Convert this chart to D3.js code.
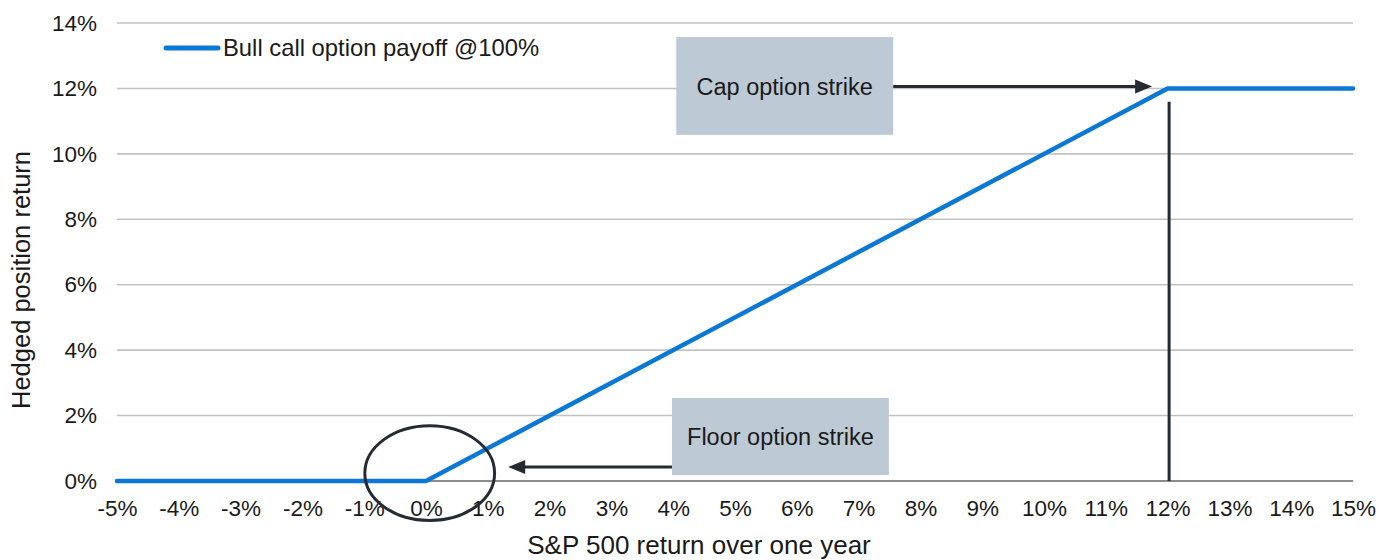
<!DOCTYPE html>
<html>
<head>
<meta charset="utf-8">
<script src="https://cdn.jsdelivr.net/npm/d3@7"></script>
<style>
  body { margin: 0; background: #fff; }
  text { font-family: "Liberation Sans", Arial, sans-serif; fill: #1a1a1a; }
</style>
</head>
<body>
<div id="chart"></div>
<script>
// data
const xTicks = [-5, -4, -3, -2, -1, 0, 1, 2, 3, 4, 5, 6, 7, 8, 9, 10, 11, 12, 13, 14, 15];
const yTicks = [0, 2, 4, 6, 8, 10, 12, 14];
const spReturn = [-5, 0, 12, 15];
const payoff = [0, 0, 12, 12];
const seriesName = "Bull call option payoff @100%";
const capLabel = "Cap option strike";
const floorLabel = "Floor option strike";
const floorStrike = 0;
const capStrike = 12;

function createChart() {
    const w = 1379;
    const h = 560;
    const left = 117, right = 1353, top = 23, bottom = 481;

    const xScale = d3.scaleLinear().domain([-5, 15]).range([left, right]);
    const yScale = d3.scaleLinear().domain([0, 14]).range([bottom, top]);

    const svg = d3.select("#chart").append("svg")
        .attr("width", w)
        .attr("height", h);

    /* GRID */
    svg.append("g")
        .selectAll("line")
        .data(yTicks.filter(d => d > 0))
        .enter()
        .append("line")
        .attr("x1", left).attr("x2", right)
        .attr("y1", d => yScale(d)).attr("y2", d => yScale(d))
        .style("stroke", "#c3c3c3")
        .style("stroke-width", 1.6);

    // zero axis line
    svg.append("line")
        .attr("x1", left).attr("x2", right)
        .attr("y1", yScale(0)).attr("y2", yScale(0))
        .style("stroke", "#8c8c8c")
        .style("stroke-width", 1.8);

    /* AXES */
    const yAxis = d3.axisLeft(yScale)
        .tickValues(yTicks)
        .tickSize(0)
        .tickPadding(20)
        .tickFormat(d => d + "%");
    const gy = svg.append("g")
        .attr("transform", "translate(" + left + ",0)")
        .call(yAxis);
    gy.select(".domain").remove();
    gy.selectAll("text").style("font-size", "22.5px").attr("fill", "#1a1a1a");

    const xAxis = d3.axisBottom(xScale)
        .tickValues(xTicks)
        .tickSize(0)
        .tickPadding(19)
        .tickFormat(d => d + "%");
    const gx = svg.append("g")
        .attr("transform", "translate(0," + bottom + ")")
        .call(xAxis);
    gx.select(".domain").remove();
    gx.selectAll("text").style("font-size", "22.5px").attr("fill", "#1a1a1a");

    /* ANNOTATIONS */
    const dark = "#262b33";
    const boxFill = "#bdc9d5";

    // cap box + arrow
    svg.append("rect")
        .attr("x", xScale(4.05)).attr("y", yScale(13.57))
        .attr("width", xScale(7.56) - xScale(4.05))
        .attr("height", yScale(10.58) - yScale(13.57))
        .style("fill", boxFill);
    svg.append("text")
        .attr("x", (xScale(4.05) + xScale(7.56)) / 2)
        .attr("y", yScale(12.06))
        .attr("dy", "0.35em")
        .style("text-anchor", "middle")
        .style("font-size", "23.5px")
        .text(capLabel);

    const capY = yScale(12.06);
    const capTip = xScale(11.75);
    svg.append("line")
        .attr("x1", xScale(7.56)).attr("x2", capTip - 10)
        .attr("y1", capY).attr("y2", capY)
        .style("stroke", dark).style("stroke-width", 3);
    svg.append("path")
        .attr("d", "M" + capTip + "," + capY + " L" + (capTip - 17) + "," + (capY - 7) +
            " L" + (capTip - 17) + "," + (capY + 7) + "Z")
        .style("fill", dark);

    // vertical line at cap strike
    svg.append("line")
        .attr("x1", xScale(capStrike) + 1.5).attr("x2", xScale(capStrike) + 1.5)
        .attr("y1", yScale(11.59)).attr("y2", yScale(0))
        .style("stroke", dark).style("stroke-width", 3);

    // floor box + arrow
    svg.append("rect")
        .attr("x", xScale(3.98)).attr("y", yScale(2.54))
        .attr("width", xScale(7.49) - xScale(3.98))
        .attr("height", yScale(0.18) - yScale(2.54))
        .style("fill", boxFill);
    svg.append("text")
        .attr("x", (xScale(3.98) + xScale(7.49)) / 2)
        .attr("y", yScale(1.36))
        .attr("dy", "0.35em")
        .style("text-anchor", "middle")
        .style("font-size", "23.5px")
        .text(floorLabel);

    const floorY = yScale(0.43);
    const floorTip = xScale(1.33);
    svg.append("line")
        .attr("x1", xScale(3.98)).attr("x2", floorTip + 10)
        .attr("y1", floorY).attr("y2", floorY)
        .style("stroke", dark).style("stroke-width", 3);
    svg.append("path")
        .attr("d", "M" + floorTip + "," + floorY + " L" + (floorTip + 17) + "," + (floorY - 7) +
            " L" + (floorTip + 17) + "," + (floorY + 7) + "Z")
        .style("fill", dark);

    /* LINE */
    const line = d3.line()
        .x(d => xScale(d[0]))
        .y(d => yScale(d[1]));

    svg.append("path")
        .datum(spReturn.map((x, i) => [x, payoff[i]]))
        .attr("d", line)
        .style("fill", "none")
        .style("stroke", "#0b78d6")
        .style("stroke-width", 4.5)
        .style("stroke-linecap", "round")
        .style("stroke-linejoin", "round");

    // circle round the floor strike
    svg.append("ellipse")
        .attr("cx", xScale(floorStrike + 0.06))
        .attr("cy", yScale(0.24))
        .attr("rx", xScale(1.05) - xScale(0))
        .attr("ry", yScale(0) - yScale(1.45))
        .style("fill", "none")
        .style("stroke", dark)
        .style("stroke-width", 3);

    /* LEGEND */
    svg.append("line")
        .attr("x1", 166).attr("x2", 218)
        .attr("y1", 48).attr("y2", 48)
        .style("stroke", "#0b78d6")
        .style("stroke-width", 5)
        .style("stroke-linecap", "round");
    svg.append("text")
        .attr("x", 223).attr("y", 48)
        .attr("dy", "0.35em")
        .style("font-size", "23.8px")
        .text(seriesName);

    /* TITLES */
    svg.append("text")
        .attr("x", 699).attr("y", 554)
        .style("text-anchor", "middle")
        .style("font-size", "26px")
        .text("S&P 500 return over one year");

    svg.append("text")
        .attr("transform", "translate(30,280) rotate(-90)")
        .style("text-anchor", "middle")
        .style("font-size", "25.5px")
        .text("Hedged position return");
}

createChart();
</script>
</body>
</html>
